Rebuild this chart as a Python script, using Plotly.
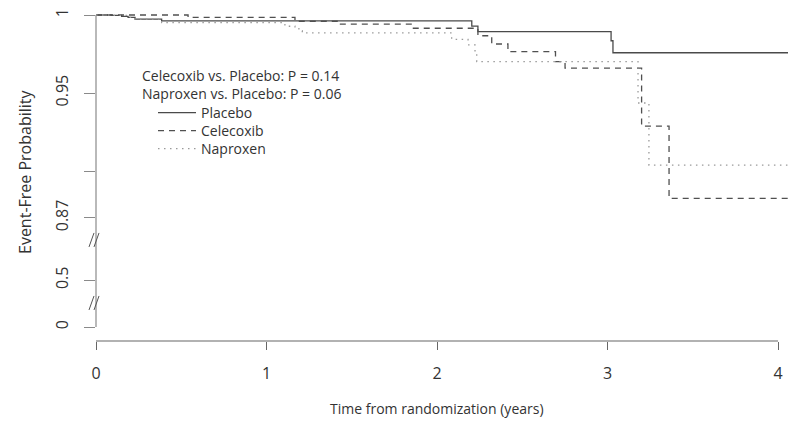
import plotly.graph_objects as go

# ---- data ----
placebo_t = [0, 0.092, 0.15, 0.188, 0.229, 0.385, 2.204, 2.240, 3.021, 3.032, 4.11]
placebo_s = [1.0, 0.9997, 0.9991, 0.9985, 0.9974, 0.9962, 0.9929, 0.9894, 0.9835, 0.9758, 0.9758]

celecoxib_t = [0, 0.54, 1.167, 1.419, 1.857, 2.240, 2.321, 2.416, 2.695, 2.751, 3.200, 3.361, 4.11]
celecoxib_s = [1.0, 0.9985, 0.9960, 0.9941, 0.9915, 0.9867, 0.9814, 0.9765, 0.9701, 0.9660, 0.9288, 0.8825, 0.8825]

naproxen_t = [0, 0.092, 0.188, 0.229, 0.385, 1.108, 1.167, 1.19, 1.21, 2.086, 2.182, 2.223, 2.233, 3.179, 3.243, 4.11]
naproxen_s = [1.0, 0.9997, 0.9985, 0.9974, 0.9951, 0.9928, 0.9917, 0.9899, 0.9885, 0.9844, 0.9808, 0.9754, 0.9701, 0.9436, 0.9038, 0.9038]

x_ticks = [0, 1, 2, 3, 4]
# broken y axis: display positions and their labels
y_tick_pos = [1.0, 0.95, 0.90, 0.87, 0.83, 0.80]
y_tick_text = ["1", "0.95", "", "0.87", "0.5", "0"]
y_break_pos = [0.8558, 0.8154]

p_texts = ["Celecoxib vs. Placebo: P = 0.14", "Naproxen vs. Placebo: P = 0.06"]

FONT = "Open Sans"
TXT = "#333333"

# ---- layout geometry (page body adds an 8px offset) ----
OFF = 8
W, H = 796, 429
ML = 96 - OFF
MT = 12 - OFF
PLOT_BOTTOM = 341 - OFF
PW = 700
MR = W - ML - PW
MB = H - PLOT_BOTTOM
PH = PLOT_BOTTOM - MT
PX_PER_YEAR = 170.5
PX_PER_UNIT = 1560.0
x_range = [0, PW / PX_PER_YEAR]
y_top = 1.0 + 3 / PX_PER_UNIT
y_range = [y_top - PH / PX_PER_UNIT, y_top]


def px_x(px):
    """target screenshot pixel -> paper x"""
    return (px - OFF - ML) / PW


def px_y(py):
    """target screenshot pixel -> paper y"""
    return (PLOT_BOTTOM - (py - OFF)) / PH


fig = go.Figure()
fig.add_trace(go.Scatter(x=placebo_t, y=placebo_s, mode="lines", name="Placebo", legend="legend",
                         line=dict(shape="hv", color="#4a4a4a", width=1.3)))
fig.add_trace(go.Scatter(x=celecoxib_t, y=celecoxib_s, mode="lines", name="Celecoxib", legend="legend2",
                         line=dict(shape="hv", color="#505050", width=1.3, dash="6px,5px")))
fig.add_trace(go.Scatter(x=naproxen_t, y=naproxen_s, mode="lines", name="Naproxen", legend="legend3",
                         line=dict(shape="hv", color="#9a9a9a", width=1.3, dash="1.5px,4.5px")))

shapes = [
    dict(type="line", xref="paper", yref="y", x0=0, x1=0, y0=y_tick_pos[-1], y1=y_tick_pos[0],
         line=dict(color="#8a8a8a", width=1.2)),
    dict(type="line", xref="x", yref="paper", x0=x_ticks[0], x1=x_ticks[-1], y0=0, y1=0,
         line=dict(color="#666666", width=1.2)),
]
for yb in y_break_pos:
    for dx in (-7, -2):
        shapes.append(dict(type="line", xref="paper", yref="y",
                           x0=px_x(96 + dx), x1=px_x(96 + dx + 5),
                           y0=yb - 7 / PX_PER_UNIT, y1=yb + 7 / PX_PER_UNIT,
                           line=dict(color="#555555", width=1)))

annotations = [
    dict(text="Time from randomization (years)", xref="paper", yref="paper",
         x=px_x(437), y=px_y(408), showarrow=False, xanchor="center", yanchor="middle",
         font=dict(family=FONT, size=14, color=TXT)),
    dict(text="Event-Free Probability", xref="paper", yref="paper",
         x=px_x(25), y=px_y(172), showarrow=False, textangle=-90,
         xanchor="center", yanchor="middle",
         font=dict(family=FONT, size=16, color=TXT)),
    dict(text="<br>".join(p_texts), xref="paper", yref="paper", x=px_x(140), y=px_y(84),
         showarrow=False, xanchor="left", yanchor="middle", align="left",
         font=dict(family=FONT, size=14, color=TXT)),
]

legend_common = dict(xanchor="left", yanchor="top", bgcolor="rgba(0,0,0,0)", borderwidth=0,
                     itemwidth=38, font=dict(family=FONT, size=14, color=TXT))

fig.update_layout(
    width=W, height=H,
    margin=dict(l=ML, r=MR, t=MT, b=MB, pad=0, autoexpand=False),
    paper_bgcolor="white", plot_bgcolor="white",
    font=dict(family=FONT, size=14, color=TXT),
    showlegend=True,
    legend=dict(x=px_x(153), y=px_y(97), **legend_common),
    legend2=dict(x=px_x(153), y=px_y(115), **legend_common),
    legend3=dict(x=px_x(153), y=px_y(133), **legend_common),
    shapes=shapes,
    annotations=annotations,
    xaxis=dict(range=x_range, tickvals=x_ticks, ticktext=[str(v) for v in x_ticks],
               ticks="outside", ticklen=8, tickcolor="#666666", tickwidth=1,
               showline=False, showgrid=False, zeroline=False, automargin=False,
               ticklabelstandoff=10, tickfont=dict(family=FONT, size=16, color=TXT)),
    yaxis=dict(range=y_range, tickvals=y_tick_pos, ticktext=y_tick_text,
               ticks="outside", ticklen=11, tickcolor="#8a8a8a", tickwidth=1,
               showline=False, showgrid=False, zeroline=False, tickangle=-90, automargin=False,
               ticklabelstandoff=10, tickfont=dict(family=FONT, size=16, color=TXT)),
)

fig.write_html("out.html")
